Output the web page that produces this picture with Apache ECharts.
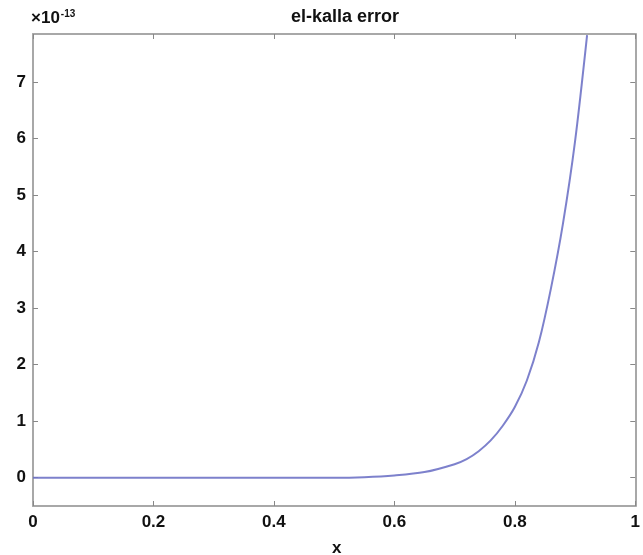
<!DOCTYPE html>
<html>
<head>
<meta charset="utf-8">
<script src="https://cdn.jsdelivr.net/npm/echarts@6/dist/echarts.min.js"></script>
<style>
  html, body { margin: 0; padding: 0; background: #fff; }
  #chart { width: 643px; height: 555px; }
</style>
</head>
<body>
<div id="chart"></div>
<script>
// values (y in units of 1e-13)
const xValues = [0, 0.1, 0.2, 0.3, 0.4, 0.5, 0.55, 0.6, 0.65, 0.7, 0.72, 0.74, 0.76, 0.78, 0.8, 0.82, 0.84, 0.86, 0.88, 0.9, 0.92]
const yValues = [0, 0, 0, 0, 0, 0, 0.01, 0.04, 0.1, 0.24, 0.33, 0.47, 0.66, 0.92, 1.25, 1.72, 2.4, 3.35, 4.5, 5.95, 7.83]
const xTicks = [0, 0.2, 0.4, 0.6, 0.8, 1]
const yTicks = [0, 1, 2, 3, 4, 5, 6, 7]

const boxColor = '#a8a8a8'
const fontFam = 'Liberation Sans, Arial, sans-serif'
const labelFont = { color: '#111', fontSize: 17, fontWeight: 'bold', fontFamily: fontFam }

const chart = echarts.init(document.getElementById('chart'))

function xAxisOf(pos, showLabel) {
  return {
    type: 'value', position: pos, min: 0, max: 1,
    axisLine: { show: true, onZero: false, lineStyle: { color: boxColor, width: 2 } },
    axisTick: { show: true, inside: true, length: 5, customValues: xTicks, lineStyle: { color: '#888', width: 1 } },
    axisLabel: Object.assign({ show: showLabel, customValues: xTicks, margin: 8, formatter: v => String(v) }, labelFont),
    splitLine: { show: false }
  }
}
function yAxisOf(pos, showLabel) {
  return {
    type: 'value', position: pos, min: -0.5, max: 7.85,
    axisLine: { show: true, onZero: false, lineStyle: { color: boxColor, width: 2 } },
    axisTick: { show: true, inside: true, length: 5, customValues: yTicks, lineStyle: { color: '#888', width: 1 } },
    axisLabel: Object.assign({ show: showLabel, customValues: yTicks, margin: 7 }, labelFont),
    splitLine: { show: false }
  }
}

chart.setOption({
  animation: false,
  backgroundColor: '#fff',
  title: {
    text: 'el-kalla error', left: 340, top: 3, textAlign: 'center',
    textStyle: { fontSize: 18, fontWeight: 'bold', color: '#111', fontFamily: fontFam }
  },
  grid: { left: 33, right: 2, top: 34, bottom: 49 },
  xAxis: [xAxisOf('bottom', true), xAxisOf('top', false)],
  yAxis: [yAxisOf('left', true), yAxisOf('right', false)],
  graphic: [
    {
      type: 'text', left: 31, top: 9,
      style: {
        text: '{a|×10}{b|-13}',
        rich: {
          a: { fontSize: 17, fontWeight: 'bold', fill: '#111', fontFamily: fontFam },
          b: { fontSize: 10, fontWeight: 'bold', fill: '#111', verticalAlign: 'top', padding: [0, 0, 9, 1], fontFamily: fontFam }
        }
      }
    },
    {
      type: 'text', left: 332, top: 540,
      style: { text: 'x', fontSize: 17, fontWeight: 'bold', fill: '#111', fontFamily: fontFam }
    }
  ],
  series: [{
    type: 'line',
    data: xValues.map((x, i) => [x, yValues[i]]),
    showSymbol: false,
    smooth: 0.3,
    clip: true,
    lineStyle: { color: '#6f73c6', width: 2, opacity: 0.9 }
  }]
})
</script>
</body>
</html>
